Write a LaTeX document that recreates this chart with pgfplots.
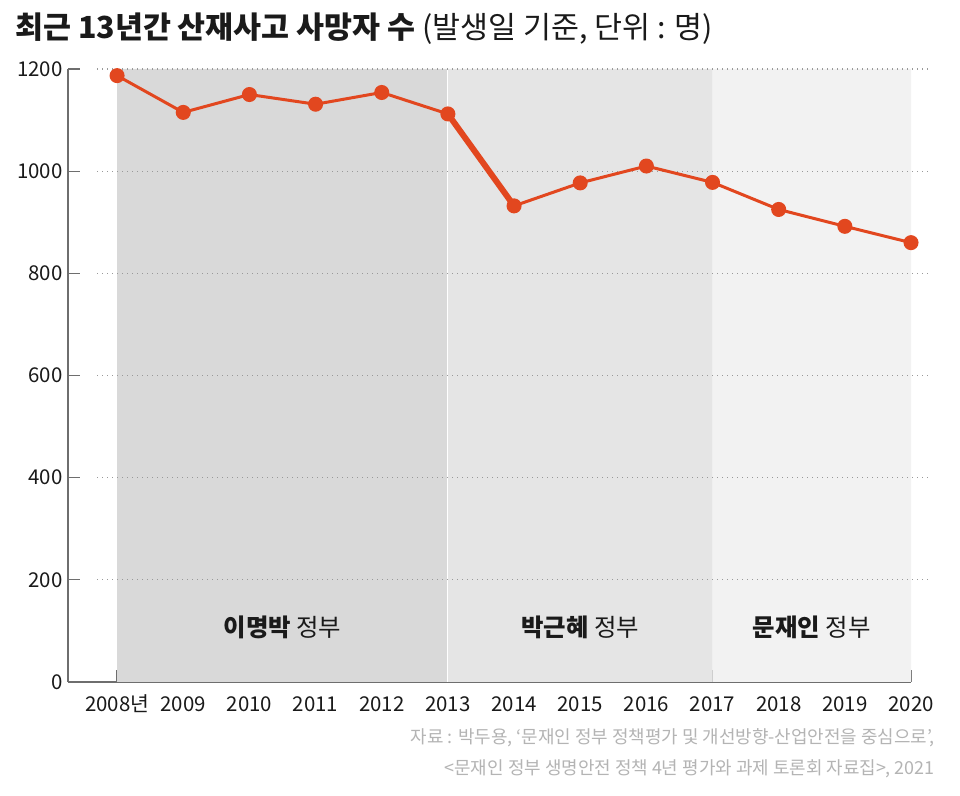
\documentclass[border=0pt]{standalone}
\usepackage{pgfplots}
\pgfplotsset{compat=1.18}
\usepackage{fontspec}
\setmainfont{Noto Sans CJK KR}
\definecolor{lc}{HTML}{E2471F}
\definecolor{rA}{HTML}{D9D9D9}
\definecolor{rB}{HTML}{E5E5E5}
\definecolor{rC}{HTML}{F2F2F2}
\definecolor{axc}{HTML}{6E6E6E}
\definecolor{foot}{HTML}{B4B4B4}
\definecolor{txt}{HTML}{1A1A1A}
\begin{document}
\begin{tikzpicture}[x=1bp,y=1bp]
\useasboundingbox (0,0) rectangle (960,796);
\fill[white] (0,0) rectangle (960,796);
\begin{axis}[
  at={(68bp,114bp)}, anchor=south west,
  scale only axis, width=843bp, height=613bp,
  xmin=-0.742, xmax=12, ymin=0, ymax=1200,
  clip=false,
  axis x line*=bottom, axis y line*=left,
  axis line style={axc, line width=1.2bp},
  tick style={axc, line width=1.2bp},
  tick align=inside, major tick length=12bp,
  xtick={0,...,12},
  xticklabels={2008년,2009,2010,2011,2012,2013,2014,2015,2016,2017,2018,2019,2020},
  ytick={0,200,400,600,800,1000,1200},
  yticklabels={0,200,400,600,800,1000,1200},
  /pgf/number format/assume math mode=true,
  ticklabel style={font=\fontsize{20.5}{24}\selectfont, text=txt},
  xticklabel style={anchor=base, yshift=-30bp},
  yticklabel style={xshift=-2bp},
]
\addplot[fill=rA, draw=none] coordinates {(0,0) (0,1200) (5,1200) (5,0)} \closedcycle;
\addplot[fill=rB, draw=none] coordinates {(5,0) (5,1200) (9,1200) (9,0)} \closedcycle;
\addplot[fill=rC, draw=none] coordinates {(9,0) (9,1200) (12,1200) (12,0)} \closedcycle;
\addplot[white, line width=1bp] coordinates {(5,0) (5,1200)};
\foreach \v in {200,400,600,800,1000,1200}{
  \edef\tmp{\noexpand\draw[gray!80, line width=1.1bp, dash pattern=on 1.1bp off 3.9bp] (axis cs:-0.3,\v) -- (axis cs:12.3,\v);}
  \tmp
}
\addplot[lc, line width=6bp, no marks] coordinates {(5,1112) (6,932)};
\addplot[lc, line width=3bp, mark=*, mark size=6bp, mark options={fill=lc, draw=none}] coordinates {
(0,1187) (1,1115) (2,1150) (3,1131) (4,1154) (5,1112) (6,932) (7,977) (8,1010) (9,978) (10,925) (11,892) (12,860)};
\node[text=txt, font=\fontsize{24.5}{28}\selectfont] at (axis cs:2.5,106) {\textbf{이명박} 정부};
\node[text=txt, font=\fontsize{24.5}{28}\selectfont] at (axis cs:7,106) {\textbf{박근혜} 정부};
\node[text=txt, font=\fontsize{24.5}{28}\selectfont] at (axis cs:10.5,106) {\textbf{문재인} 정부};
\end{axis}
\node[anchor=base west, inner sep=0, text=txt, font=\fontsize{30.5}{34}\selectfont] at (15,757) {\textbf{최근 13년간 산재사고 사망자 수} (발생일 기준, 단위 : 명)};
\node[anchor=base east, inner sep=0, text=foot, font=\fontsize{18}{21}\selectfont] at (935,52) {자료 : 박두용, ‘문재인 정부 정책평가 및 개선방향-산업안전을 중심으로’,};
\node[anchor=base east, inner sep=0, text=foot, font=\fontsize{18}{21}\selectfont] at (935,21) {<문재인 정부 생명안전 정책 4년 평가와 과제 토론회 자료집>, 2021};
\end{tikzpicture}
\end{document}
